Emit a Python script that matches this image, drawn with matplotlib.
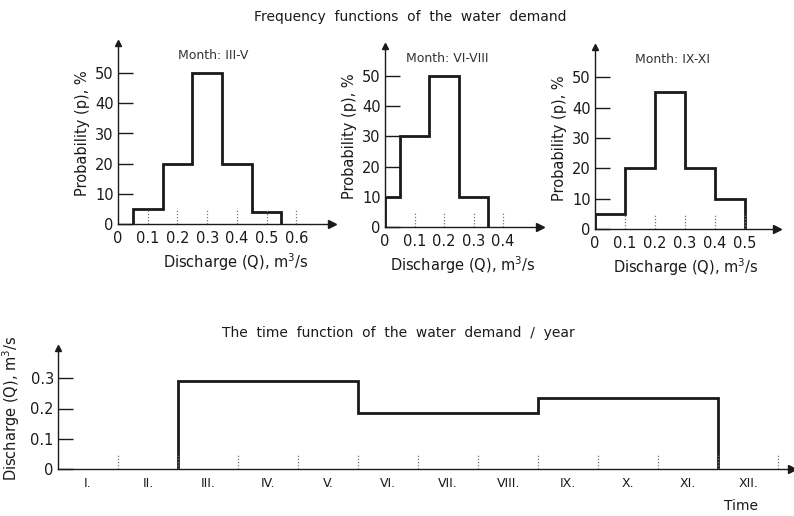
import matplotlib
matplotlib.use("Agg")
import matplotlib.pyplot as plt

# ---- data ----
p1_edges = [0.05, 0.15, 0.25, 0.35, 0.45, 0.55]
p1_vals = [5, 20, 50, 20, 4]
p1_xticks = [0, 0.1, 0.2, 0.3, 0.4, 0.5, 0.6]

p2_edges = [0.0, 0.05, 0.15, 0.25, 0.35]
p2_vals = [10, 30, 50, 10]
p2_xticks = [0, 0.1, 0.2, 0.3, 0.4]

p3_edges = [0.0, 0.1, 0.2, 0.3, 0.4, 0.5]
p3_vals = [5, 20, 45, 20, 10]
p3_xticks = [0, 0.1, 0.2, 0.3, 0.4, 0.5]

prob_yticks = [0, 10, 20, 30, 40, 50]

months = ["I.", "II.", "III.", "IV.", "V.", "VI.", "VII.", "VIII.", "IX.", "X.", "XI.", "XII."]
year_edges = [2, 5, 8, 11]          # month boundaries (III-V, VI-VIII, IX-XI)
year_vals = [0.29, 0.185, 0.235]    # discharge m3/s
year_yticks = [0, 0.1, 0.2, 0.3]

INK = "#1a1a1a"
plt.rcParams["font.family"] = ["DejaVu Sans"]
plt.rcParams["text.color"] = INK
plt.rcParams["axes.labelcolor"] = INK
plt.rcParams["xtick.color"] = INK
plt.rcParams["ytick.color"] = INK

fig = plt.figure(figsize=(7.94, 5.16), dpi=100)


def fmt(v):
    return "0" if v == 0 else f"{v:.1f}"


def style_axes(ax, xmax, ymax):
    ax.set_xlim(0, xmax)
    ax.set_ylim(0, ymax)
    for s in ("top", "right"):
        ax.spines[s].set_visible(False)
    for s in ("left", "bottom"):
        ax.spines[s].set_linewidth(1.0)
        ax.spines[s].set_color(INK)
    ax.plot(1, 0, ">", color=INK, ms=6, transform=ax.transAxes, clip_on=False)
    ax.plot(0, 1, "^", color=INK, ms=5, transform=ax.transAxes, clip_on=False)
    ax.tick_params(axis="y", direction="in", length=11, width=1.0, pad=3, labelsize=10.5)
    ax.tick_params(axis="x", length=0, pad=5, labelsize=10.5)


def freq_panel(rect, edges, vals, xticks, xmax, title, tx, xlab_x):
    ax = fig.add_axes(rect)
    style_axes(ax, xmax, 60)
    ax.stairs(vals, edges, baseline=0, color=INK, linewidth=2.0)
    ax.set_xticks(xticks)
    ax.set_xticklabels([fmt(v) for v in xticks])
    ax.set_yticks(prob_yticks)
    ax.set_yticklabels([str(v) for v in prob_yticks])
    ax.vlines(xticks[1:], 0, 4.5, colors="#777777", linestyles=(0, (1, 1.5)), linewidth=0.9)
    ax.set_ylabel("Probability (p), %", fontsize=10.5, labelpad=4)
    ax.set_xlabel("Discharge (Q), m$^3$/s", fontsize=10.5, labelpad=4, x=xlab_x)
    ax.text(tx, 56, title, fontsize=9, ha="center", va="center", color="#333333")
    return ax


freq_panel([118 / 794, 1 - 224 / 516, 214 / 794, 181 / 516],
           p1_edges, p1_vals, p1_xticks, 0.72, "Month: III-V", 0.32, 0.55)
freq_panel([385 / 794, 1 - 227 / 516, 155 / 794, 181 / 516],
           p2_edges, p2_vals, p2_xticks, 0.525, "Month: VI-VIII", 0.21, 0.5)
freq_panel([595 / 794, 1 - 229 / 516, 182 / 794, 182 / 516],
           p3_edges, p3_vals, p3_xticks, 0.607, "Month: IX-XI", 0.257, 0.5)

# ---- yearly time function ----
ax = fig.add_axes([58 / 794, 1 - 469 / 516, 734 / 794, 121 / 516])
style_axes(ax, 12.23, 0.40)
ax.stairs(year_vals, year_edges, baseline=0, color=INK, linewidth=2.0)
ax.set_yticks(year_yticks)
ax.set_yticklabels([fmt(v) for v in year_yticks])
centers = [i + 0.5 for i in range(len(months))]
ax.set_xticks(centers)
ax.set_xticklabels(months, fontsize=9)
ax.tick_params(axis="x", pad=6)
ax.vlines(range(1, len(months) + 1), 0, 0.05, colors="#777777",
          linestyles=(0, (1, 1.5)), linewidth=0.9)
ax.set_ylabel("Discharge (Q), m$^3$/s", fontsize=10.5, labelpad=6)

fig.text(741 / 794, 1 - 506 / 516, "Time", fontsize=10, ha="center", va="center")
fig.text(410 / 794, 1 - 17 / 516, "Frequency  functions  of  the  water  demand",
         fontsize=10, ha="center", va="center")
fig.text(398 / 794, 1 - 333 / 516, "The  time  function  of  the  water  demand  /  year",
         fontsize=10, ha="center", va="center")

fig.savefig("out.png", dpi=100)
